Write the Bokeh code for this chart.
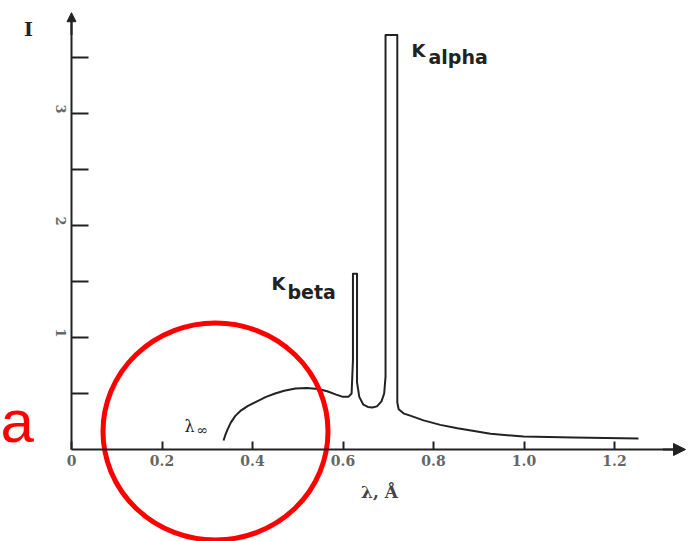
from bokeh.plotting import figure
from bokeh.models import FixedTicker, Arrow, NormalHead, ColumnDataSource
from bokeh.core.properties import value
from bokeh.embed import file_html
from bokeh.resources import INLINE
import math

# ---- data ----
wavelength = [0.336, 0.340, 0.345, 0.352, 0.362, 0.375, 0.390, 0.410, 0.430, 0.450,
              0.470, 0.495, 0.520, 0.545, 0.565, 0.585, 0.600, 0.612, 0.619, 0.622,
              0.622, 0.631, 0.631, 0.636, 0.645, 0.655, 0.665, 0.675, 0.685, 0.691,
              0.694, 0.694, 0.720, 0.720, 0.723, 0.735, 0.750, 0.778, 0.815, 0.853,
              0.926, 0.999, 1.109, 1.253]
intensity = [0.08, 0.13, 0.18, 0.24, 0.30, 0.35, 0.39, 0.43, 0.47, 0.50,
             0.525, 0.545, 0.55, 0.54, 0.52, 0.49, 0.47, 0.47, 0.50, 0.80,
             1.57, 1.57, 0.60, 0.47, 0.40, 0.38, 0.375, 0.385, 0.43, 0.50,
             0.65, 3.70, 3.70, 0.42, 0.36, 0.32, 0.30, 0.26, 0.22, 0.19,
             0.14, 0.116, 0.107, 0.098]
x_ticks = [0, 0.2, 0.4, 0.6, 0.8, 1.0, 1.2]
x_tick_labels = ["0", "0.2", "0.4", "0.6", "0.8", "1.0", "1.2"]
y_ticks = [0.5, 1, 1.5, 2, 2.5, 3, 3.5]
y_tick_labels = ["", "1", "", "2", "", "3", ""]

# ---- layout (pixel mapping of the scan) ----
W, H = 694, 541
PX0, PXU = 71.0, 452.5      # x=0 pixel, pixels per unit
PY0, PYU = 449.0, 112.0     # y=0 pixel, pixels per unit
X0, X1 = -PX0 / PXU, (W - PX0) / PXU
Y0, Y1 = -(H - PY0) / PYU, PY0 / PYU

def dx(px):
    return (px - PX0) / PXU

def dy(py):
    return (PY0 - py) / PYU

X_AXIS_END = 1.357
Y_AXIS_END = 3.90

p = figure(width=W, height=H, x_range=(X0, X1), y_range=(Y0, Y1),
           output_backend="svg", toolbar_location=None, min_border=0,
           title=None)
p.grid.visible = False
p.outline_line_color = None
p.background_fill_color = "white"
p.border_fill_color = "white"

ink = "#222222"
serif = "DejaVu Serif"

# x axis
xa = p.xaxis[0]
xa.fixed_location = 0
xa.bounds = (0, X_AXIS_END - 0.02)
xa.ticker = FixedTicker(ticks=x_ticks)
xa.major_label_overrides = {t: l for t, l in zip(x_ticks, x_tick_labels)}
xa.major_tick_in = 8
xa.major_tick_out = 0
xa.minor_tick_line_color = None
xa.axis_line_width = 2
xa.axis_line_color = ink
xa.major_tick_line_color = ink
xa.major_tick_line_width = 2
xa.major_label_text_font = serif
xa.major_label_text_font_style = "bold"
xa.major_label_text_font_size = "14px"
xa.major_label_text_color = "#666666"
xa.major_label_standoff = 5

# y axis
ya = p.yaxis[0]
ya.fixed_location = 0
ya.bounds = (0, Y_AXIS_END - 0.05)
ya.ticker = FixedTicker(ticks=y_ticks)
ya.major_label_overrides = {t: l for t, l in zip(y_ticks, y_tick_labels)}
ya.major_tick_in = 17
ya.major_tick_out = 0
ya.minor_tick_line_color = None
ya.axis_line_width = 2
ya.axis_line_color = ink
ya.major_tick_line_color = ink
ya.major_tick_line_width = 2
ya.major_label_text_font = serif
ya.major_label_text_font_style = "bold"
ya.major_label_text_font_size = "13px"
ya.major_label_text_color = "#666666"
ya.major_label_orientation = -math.pi / 2
ya.major_label_standoff = 11

# axis arrows
p.add_layout(Arrow(end=NormalHead(size=12, fill_color=ink, line_color=ink),
                   x_start=X_AXIS_END - 0.05, y_start=0, x_end=X_AXIS_END, y_end=0,
                   line_color=ink, line_width=2))
p.add_layout(Arrow(end=NormalHead(size=9, fill_color=ink, line_color=ink),
                   x_start=0, y_start=Y_AXIS_END - 0.2, x_end=0, y_end=Y_AXIS_END,
                   line_color=ink, line_width=2))

# spectrum
src = ColumnDataSource(dict(x=wavelength, y=intensity))
p.line("x", "y", source=src, line_color=ink, line_width=2, line_join="round")

# axis titles
p.text(x=[dx(28)], y=[dy(28)], text=["I"], text_font=value(serif),
       text_font_style="bold", text_font_size="19px", text_color=ink,
       text_align="center", text_baseline="middle")
p.text(x=[dx(379)], y=[dy(491)], text=["λ, Å"], text_font=value(serif),
       text_font_style="bold", text_font_size="17px", text_color="#444444",
       text_align="center", text_baseline="alphabetic")

# peak labels
sans = value("DejaVu Sans")
p.text(x=[dx(411), dx(271)], y=[dy(50), dy(283)], text=["K", "K"], text_font=sans,
       text_font_style="bold", text_font_size="18px", text_color=ink,
       text_align="left", text_baseline="alphabetic")
p.text(x=[dx(428), dx(287)], y=[dy(56), dy(291)], text=["alpha", "beta"], text_font=sans,
       text_font_style="bold", text_font_size="19px", text_color=ink,
       text_align="left", text_baseline="alphabetic")

# lambda min label
p.text(x=[dx(184)], y=[dy(426)], text=["λ"], text_font=value(serif),
       text_font_size="16px", text_color=ink, text_align="left",
       text_baseline="alphabetic")
p.text(x=[dx(196)], y=[dy(429)], text=["∞"], text_font=value(serif),
       text_font_size="14px", text_color=ink, text_align="left",
       text_baseline="alphabetic")

# red annotation circle and letter
p.ellipse(x=[dx(215)], y=[dy(431)], width=225, height=217,
          width_units="screen", height_units="screen",
          fill_color=None, line_color="#ff0000", line_width=5)
p.text(x=[dx(0)], y=[dy(421)], text=["a"], text_font=value("Liberation Sans"),
       text_font_size="60px", text_color="#ff0000", text_align="left",
       text_baseline="alphabetic")

open("out.html", "w").write(file_html(p, INLINE))
